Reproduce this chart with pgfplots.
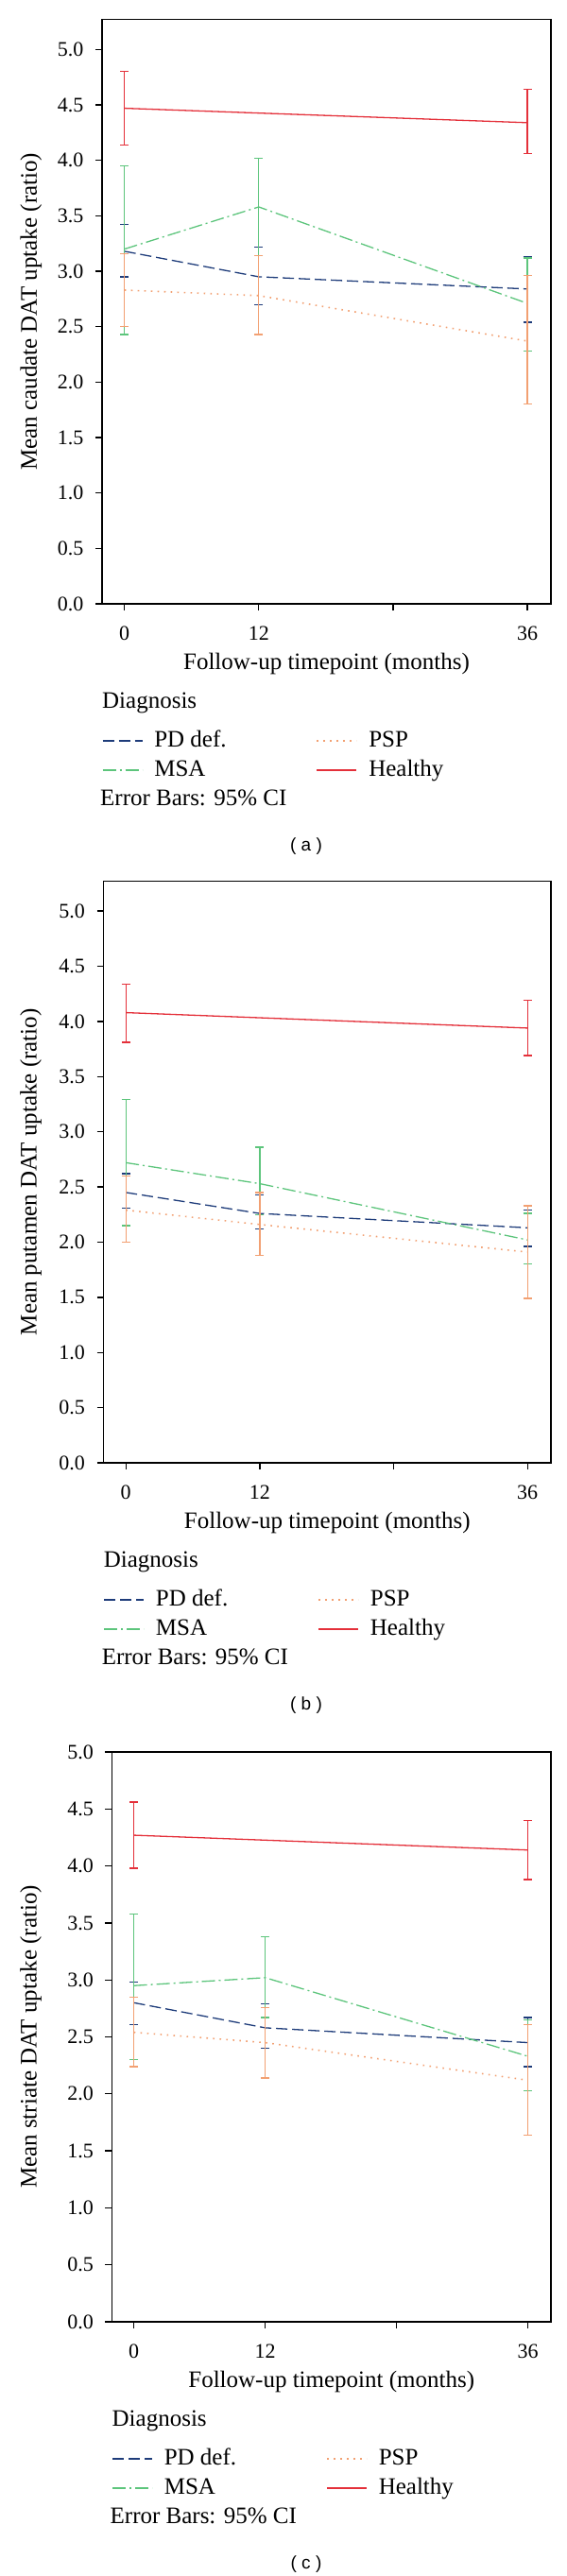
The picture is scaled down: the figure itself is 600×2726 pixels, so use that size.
\documentclass[border=0pt]{standalone}
\usepackage{fontspec}
\setmainfont{Liberation Serif}
\newfontfamily\capfont{Liberation Sans}
\usepackage{pgfplots}
\usepackage{pgfplotstable}
\pgfplotsset{compat=1.18}

\definecolor{pdc}{HTML}{1E3C7A}
\definecolor{msac}{HTML}{5DC57C}
\definecolor{pspc}{HTML}{F2A072}
\definecolor{hc}{HTML}{E4303A}

% panel (a): caudate
\pgfplotstableread{
x m l h
0 3.18 2.95 3.42
12 2.95 2.70 3.22
36 2.84 2.54 3.13
}\PDa
\pgfplotstableread{
x m l h
0 3.20 2.43 3.95
12 3.58 3.14 4.02
36 2.71 2.28 3.12
}\MSAa
\pgfplotstableread{
x m l h
0 2.83 2.50 3.16
12 2.78 2.43 3.14
36 2.37 1.80 2.96
}\PSPa
\pgfplotstableread{
x m l h
0 4.47 4.14 4.80
36 4.34 4.06 4.64
}\Ha
% panel (b): putamen
\pgfplotstableread{
x m l h
0 2.45 2.31 2.62
12 2.26 2.12 2.43
36 2.13 1.96 2.29
}\PDb
\pgfplotstableread{
x m l h
0 2.72 2.15 3.29
12 2.53 2.25 2.86
36 2.02 1.80 2.26
}\MSAb
\pgfplotstableread{
x m l h
0 2.29 2.00 2.60
12 2.16 1.88 2.45
36 1.91 1.49 2.33
}\PSPb
\pgfplotstableread{
x m l h
0 4.08 3.81 4.34
36 3.94 3.69 4.19
}\Hb
% panel (c): striate
\pgfplotstableread{
x m l h
0 2.80 2.61 2.98
12 2.58 2.40 2.79
36 2.45 2.24 2.67
}\PDc
\pgfplotstableread{
x m l h
0 2.95 2.30 3.58
12 3.02 2.67 3.38
36 2.33 2.03 2.65
}\MSAc
\pgfplotstableread{
x m l h
0 2.54 2.24 2.85
12 2.45 2.14 2.76
36 2.12 1.64 2.61
}\PSPc
\pgfplotstableread{
x m l h
0 4.27 3.98 4.56
36 4.14 3.88 4.40
}\Hc

\newcommand{\lab}{\fontsize{25bp}{30bp}\selectfont}
\newcommand{\tlab}{\fontsize{22bp}{26bp}\selectfont}

\pgfplotsset{
  pd/.style={color=pdc, line width=1.3bp, dash pattern=on 12bp off 5bp, mark=none},
  msa/.style={color=msac, line width=1.3bp, dash pattern=on 14bp off 4bp on 2bp off 4bp, mark=none},
  psp/.style={color=pspc, line width=1.6bp, dash pattern=on 1.6bp off 5.4bp, mark=none},
  hea/.style={color=hc, line width=1.3bp, solid, mark=none},
  eb/.style={/pgfplots/error bars/y dir=both, /pgfplots/error bars/y explicit,
     /pgfplots/error bars/error bar style={solid, line width=1.3bp},
     /pgfplots/error bars/error mark=|,
     /pgfplots/error bars/error mark options={solid, line width=1.3bp, mark size=4.5bp}},
  panel/.style={
    scale only axis, clip=false, anchor=south west,
    xmin=-2, xmax=38.1, ymin=0,
    axis line style={line width=1.3bp, black},
    every tick/.style={line width=1.3bp, black},
    tick align=outside, major tick length=7bp, tick pos=left,
    xtick={0,12,24,36}, xticklabels={0,12,,36},
    ytick={0,0.5,1,1.5,2,2.5,3,3.5,4,4.5,5},
    /pgf/number format/assume math mode=true,
    yticklabel={\pgfmathprintnumber[fixed,fixed zerofill,precision=1]{\tick}},
    tick label style={font=\tlab},
    xticklabel style={anchor=center, yshift=-24bp},
    yticklabel style={anchor=east, inner sep=0pt, xshift=-12.5bp},
    xlabel={Follow-up timepoint (months)},
    xlabel style={font=\lab, at={(axis description cs:0.5,0)}, anchor=center, yshift=-63bp},
    ylabel style={font=\lab, anchor=center},
    legend columns=2,
    legend cell align=left,
    legend image code/.code={\draw[##1] (0bp,0bp) -- (42bp,0bp);},
    legend style={at={(axis description cs:0,0)}, anchor=north west, yshift=-133bp,
      draw=none, fill=none, inner sep=0pt, outer sep=0pt, font=\lab,
      row sep=7bp, column sep=12bp,
      nodes={inner sep=0pt, text height=18bp, text depth=6bp},
      /tikz/column 2/.style={column sep=95bp}},
  },
}

\newcommand{\panelextras}[2]{%
  \addlegendimage{pd}\addlegendentry{PD def.}
  \addlegendimage{psp}\addlegendentry{PSP}
  \addlegendimage{msa}\addlegendentry{MSA}
  \addlegendimage{hea}\addlegendentry{Healthy}
  \node[anchor=base west, font=\lab, inner sep=0pt] at (axis description cs:0,0) [yshift=-110bp] {Diagnosis};
  \node[anchor=base west, font=\lab, inner sep=0pt] at (axis description cs:0,0) [yshift=-213bp, xshift=-2bp] {Error Bars: 95\% CI};
  \node[anchor=center, font=\capfont\fontsize{19bp}{22bp}\selectfont, inner sep=0pt] at (axis description cs:0,0) [yshift=-257bp, xshift=#1] {( #2 )};
}

\begin{document}
\begin{tikzpicture}
\useasboundingbox (0bp,0bp) rectangle (600bp,-2726bp);

% ---------- (a) ----------
\begin{axis}[panel, at={(108bp,-639bp)}, width=475bp, height=618.3bp, ymax=5.27,
  ylabel={Mean caudate DAT uptake (ratio)},
  ylabel style={at={(axis description cs:-0.158,0.5)}}]
\addplot[forget plot, pd, eb] table[x=x, y=m, y error plus expr=\thisrow{h}-\thisrow{m}, y error minus expr=\thisrow{m}-\thisrow{l}] {\PDa};
\addplot[forget plot, msa, eb] table[x=x, y=m, y error plus expr=\thisrow{h}-\thisrow{m}, y error minus expr=\thisrow{m}-\thisrow{l}] {\MSAa};
\addplot[forget plot, psp, eb] table[x=x, y=m, y error plus expr=\thisrow{h}-\thisrow{m}, y error minus expr=\thisrow{m}-\thisrow{l}] {\PSPa};
\addplot[forget plot, hea, eb] table[x=x, y=m, y error plus expr=\thisrow{h}-\thisrow{m}, y error minus expr=\thisrow{m}-\thisrow{l}] {\Ha};
\panelextras{216bp}{a}
\end{axis}

% ---------- (b) ----------
\begin{axis}[panel, at={(109.6bp,-1548bp)}, width=473.4bp, height=615.4bp, ymax=5.27,
  ylabel={Mean putamen DAT uptake (ratio)},
  ylabel style={at={(axis description cs:-0.1624,0.5)}}]
\addplot[forget plot, pd, eb] table[x=x, y=m, y error plus expr=\thisrow{h}-\thisrow{m}, y error minus expr=\thisrow{m}-\thisrow{l}] {\PDb};
\addplot[forget plot, msa, eb] table[x=x, y=m, y error plus expr=\thisrow{h}-\thisrow{m}, y error minus expr=\thisrow{m}-\thisrow{l}] {\MSAb};
\addplot[forget plot, psp, eb] table[x=x, y=m, y error plus expr=\thisrow{h}-\thisrow{m}, y error minus expr=\thisrow{m}-\thisrow{l}] {\PSPb};
\addplot[forget plot, hea, eb] table[x=x, y=m, y error plus expr=\thisrow{h}-\thisrow{m}, y error minus expr=\thisrow{m}-\thisrow{l}] {\Hb};
\panelextras{214.4bp}{b}
\end{axis}

% ---------- (c) ----------
\begin{axis}[panel, at={(118.5bp,-2457bp)}, width=464.5bp, height=603bp, ymax=5.0,
  ylabel={Mean striate DAT uptake (ratio)},
  ylabel style={at={(axis description cs:-0.1847,0.5)}}]
\addplot[forget plot, pd, eb] table[x=x, y=m, y error plus expr=\thisrow{h}-\thisrow{m}, y error minus expr=\thisrow{m}-\thisrow{l}] {\PDc};
\addplot[forget plot, msa, eb] table[x=x, y=m, y error plus expr=\thisrow{h}-\thisrow{m}, y error minus expr=\thisrow{m}-\thisrow{l}] {\MSAc};
\addplot[forget plot, psp, eb] table[x=x, y=m, y error plus expr=\thisrow{h}-\thisrow{m}, y error minus expr=\thisrow{m}-\thisrow{l}] {\PSPc};
\addplot[forget plot, hea, eb] table[x=x, y=m, y error plus expr=\thisrow{h}-\thisrow{m}, y error minus expr=\thisrow{m}-\thisrow{l}] {\Hc};
\panelextras{205.5bp}{c}
\end{axis}
\end{tikzpicture}
\end{document}
